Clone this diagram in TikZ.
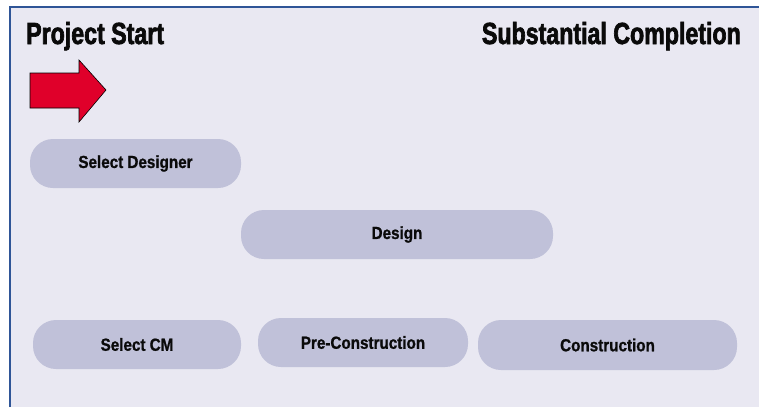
\documentclass[tikz,border=0pt]{standalone}
\usepackage{fontspec}
\setmainfont{Liberation Sans}
\newfontfamily\titlefont{Liberation Sans}[FakeStretch=0.76, FakeBold=2.2]
\newfontfamily\pillfont{Liberation Sans}[FakeStretch=0.87, FakeBold=1]
\definecolor{bgc}{HTML}{E9E8F2}
\definecolor{pillc}{HTML}{C0C1D9}
\definecolor{framec}{HTML}{2F5597}
\definecolor{arrowc}{HTML}{E0002A}
\definecolor{txtc}{HTML}{0A0A0A}
\tikzset{
  pill/.style={fill=pillc, draw=none, rounded corners=23pt, inner sep=0pt,
    minimum height=49pt, text=txtc, font=\pillfont\bfseries\fontsize{17.5}{19}\selectfont},
  title/.style={inner sep=0pt, text=txtc, font=\titlefont\bfseries\fontsize{30.5}{33}\selectfont}
}
\begin{document}
\begin{tikzpicture}[x=1pt,y=-1pt]
\useasboundingbox (0,0) rectangle (759,407);
\fill[white] (0,0) rectangle (759,407);
\fill[bgc] (10,7) rectangle (759,407);
\draw[framec, line width=1.5pt] (10,407) -- (10,7) -- (759,7);
\node[title, anchor=base west] (start) at (26,44) {Project Start};
\node[title, anchor=base east] (completion) at (741,44) {Substantial Completion};
\draw[fill=arrowc, draw=black, line width=0.6pt] (30,73) -- (79,73) -- (79,60) -- (106,90) -- (79,122) -- (79,108) -- (30,108) -- cycle;
\node[pill, minimum width=211pt] (seldes) at (135.5,163.5) {Select Designer};
\node[pill, minimum width=312pt] (design) at (397,234.5) {Design};
\node[pill, minimum width=208pt] (selcm) at (137,344.5) {Select CM};
\node[pill, minimum width=210pt] (precon) at (363,342.5) {Pre-Construction};
\node[pill, minimum width=259pt, minimum height=50pt] (con) at (607.5,345) {Construction};
\end{tikzpicture}
\end{document}
